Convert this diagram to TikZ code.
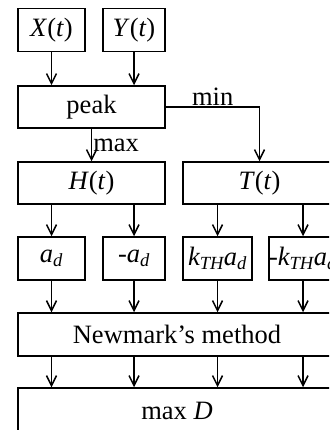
\documentclass[tikz,border=0pt]{standalone}
\usepackage{amsmath}
\usepackage{fontspec}
\setmainfont{Liberation Serif}
\usepackage{tikz}
\usetikzlibrary{arrows.meta,positioning}
\tikzset{
  ar/.style={-{Straight Barb[length=10pt,width=10pt,line width=1.5pt]},line width=1.5pt},
  blk/.style={draw,line width=1.5pt,inner sep=0pt,minimum height=43pt,align=center,font=\fontsize{26.5}{30}\selectfont},
  lbl/.style={inner sep=1pt,font=\fontsize{26.5}{30}\selectfont}
}
\newcommand{\iv}[1]{\textit{#1}}
\begin{document}
\begin{tikzpicture}[x=1pt,y=-1pt]
\useasboundingbox (0,0) rectangle (329,430);
\clip (0,0) rectangle (329,430);
% inputs
\node[blk,minimum width=67pt] (xt) at (51.5,30) {\iv{X}(\iv{t})};
\node[blk,minimum width=62pt] (yt) at (134,30) {\iv{Y}(\iv{t})};
\node[blk,minimum width=147pt,minimum height=42pt] (pk) at (91.5,107) {peak};
\draw[ar] (xt.south) -- (xt.south |- pk.north);
\draw[ar] (yt.south) -- (yt.south |- pk.north);
% max / min branches
\node[blk,minimum width=147pt,minimum height=42pt] (ht) at (91.5,183) {\iv{H}(\iv{t})};
\node[blk,minimum width=153pt,minimum height=42pt] (tt) at (259.5,183) {\iv{T}(\iv{t})};
\draw[ar] (pk.south) -- (ht.north) node[lbl,midway,right]{max};
\draw[ar] (pk.east) -| (tt.north) node[lbl,pos=0.25,above]{min};
% accelerations
\node[blk,minimum width=67pt] (ad) at (51.5,258.5) {$\iv{a}_{\iv{d}}$};
\node[blk,minimum width=62pt] (nad) at (134,258.5) {-$\iv{a}_{\iv{d}}$};
\node[blk,minimum width=69pt] (kad) at (217.5,258.5) {$\iv{k}_{\iv{TH}}\iv{a}_{\iv{d}}$};
\node[blk,minimum width=66pt] (nkad) at (303,258.5) {-$\iv{k}_{\iv{TH}}\iv{a}_{\iv{d}}$};
\node[blk,minimum width=318pt] (nm) at (177,334.5) {Newmark’s method};
\node[blk,minimum width=318pt,minimum height=46pt] (mx) at (177,411) {max \iv{D}};
\foreach \b/\s in {ad/ht,nad/ht,kad/tt,nkad/tt}{
  \draw[ar] (\b |- \s.south) -- (\b.north);
  \draw[ar] (\b.south) -- (\b.south |- nm.north);
  \draw[ar] (\b |- nm.south) -- (\b |- mx.north);
}
\end{tikzpicture}
\end{document}
